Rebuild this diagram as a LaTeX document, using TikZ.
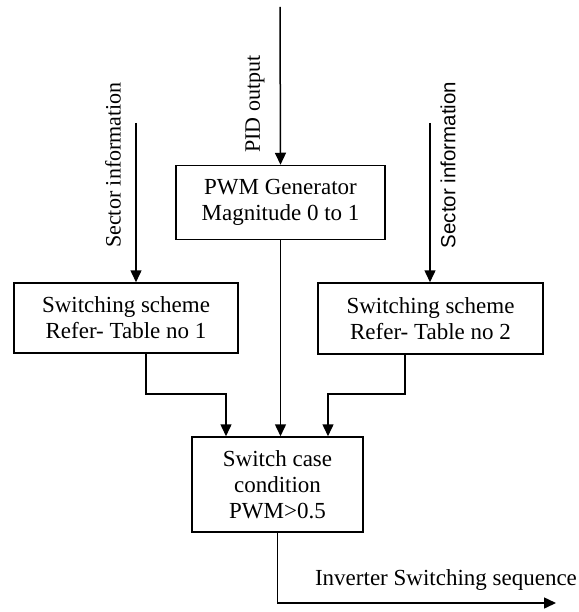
\documentclass[tikz,border=0pt]{standalone}
\usepackage{fontspec}
\setmainfont{Liberation Serif}
\setsansfont{Liberation Sans}
\usepackage{tikz}
\usetikzlibrary{arrows.meta,positioning}

\begin{document}
\begin{tikzpicture}[
  x=1pt,y=-1pt,
  box/.style={draw=black, line width=1.5pt, align=center, inner sep=0pt, font=\fontsize{23}{26}\selectfont},
  lbl/.style={font=\fontsize{22}{26}\selectfont, inner sep=0pt},
  arrow/.style={-{Triangle[length=12pt,width=11pt]}, line width=1.5pt, draw=black}
]
\useasboundingbox (0,0) rectangle (578,612);
\node[box, minimum width=209pt, minimum height=74pt] (pwm) at (280.5,202.5) {PWM Generator\\Magnitude 0 to 1};
\node[box, minimum width=224pt, minimum height=70pt] (swa) at (126,318) {Switching scheme\\Refer- Table no 1};
\node[box, minimum width=225pt, minimum height=71pt] (swb) at (430.5,318.5) {Switching scheme\\Refer- Table no 2};
\node[box, minimum width=171pt, minimum height=95pt] (swcase) at (277.5,484.5) {Switch case\\condition\\PWM>0.5};
% inputs
\coordinate (pidin) at (280,7);
\coordinate (seca) at (136,123);
\coordinate (secb) at (430,123);
\coordinate (out) at (556,603);
\node[lbl, rotate=90] (pidlbl) at (255,104) {PID output};
\node[lbl, rotate=90] (secalbl) at (113,165) {Sector information};
\node[lbl, rotate=90, font=\sffamily\fontsize{20.5}{24}\selectfont] (secblbl) at (448,165) {Sector information};
\node[lbl, font=\fontsize{23}{26}\selectfont] (outlbl) at (446,580) {Inverter Switching sequence};
\draw[arrow] (pidin) -- (pwm.north);
\draw[arrow] (seca) -- (seca |- swa.north);
\draw[arrow] (secb) -- (secb |- swb.north);
\draw[arrow] (pwm.south) -- (pwm.south |- swcase.north);
\draw[arrow] ([xshift=20pt]swa.south) -- ++(0,40) -| ([xshift=-51.5pt]swcase.north);
\draw[arrow] ([xshift=-25.5pt]swb.south) -- ++(0,39) -| ([xshift=50.5pt]swcase.north);
\draw[arrow] (swcase.south) |- (out);
\end{tikzpicture}
\end{document}
